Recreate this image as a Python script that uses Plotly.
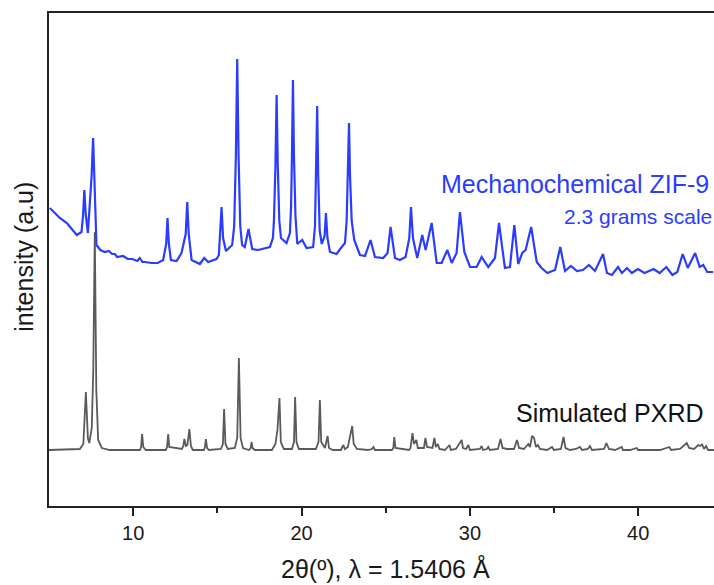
import plotly.graph_objects as go

# Measured pattern: mechanochemical ZIF-9 (2.3 g scale), stacked above the simulation
exp_2theta = [5.05, 5.64, 6.06, 6.65, 6.93, 7.02, 7.10, 7.18, 7.31, 7.53, 7.62, 7.70, 7.76,
              7.82, 8.05, 8.32, 8.55, 8.75, 8.91, 9.05, 9.40, 9.68, 9.95, 10.25,
              10.39, 10.55, 10.69, 11.10, 11.46, 11.78, 11.96, 12.04, 12.12, 12.24, 12.58,
              12.87, 13.12, 13.21, 13.30, 13.47, 13.96,
              14.22, 14.45, 14.95, 15.09, 15.17, 15.25, 15.34, 15.51, 15.88, 16.00, 16.10,
              16.18, 16.26, 16.36, 16.47, 16.63, 16.85,
              17.07, 17.42, 18.12, 18.30, 18.36, 18.45, 18.52, 18.59, 18.68, 18.78, 19.11,
              19.31, 19.38, 19.43, 19.49, 19.55, 19.64, 19.75, 20.04,
              20.30, 20.69, 20.80, 20.87, 20.93, 20.99, 21.08, 21.20, 21.37, 21.45, 21.54,
              21.69, 22.08, 22.34, 22.58, 22.68, 22.76, 22.82, 22.88, 22.98, 23.13,
              23.47, 23.77, 24.10, 24.36, 24.85, 25.11, 25.29, 25.55, 25.84, 26.18, 26.40,
              26.50, 26.62, 26.87, 27.17, 27.37, 27.73, 28.03, 28.32, 28.66, 28.92, 29.21,
              29.41, 29.67,
              30.01, 30.40, 30.70, 31.09, 31.49, 31.73, 32.08, 32.38, 32.64, 32.87, 33.11,
              33.31, 33.64, 33.97, 34.26, 34.60, 34.80, 35.06, 35.37, 35.65, 36.00, 36.36,
              36.72, 37.07, 37.43, 37.67, 37.91, 38.14, 38.44, 38.80, 39.03, 39.33, 39.62,
              39.98, 40.37, 40.91, 41.27, 41.67, 42.03, 42.32, 42.64, 42.94, 43.38, 43.65,
              43.86, 44.10, 44.45]
exp_intensity = [298, 288, 283, 271, 274, 290, 316, 292, 273, 330, 368, 320, 275,
                 261, 256, 254, 255, 252, 252, 249, 250, 247, 247, 245,
                 248, 244, 244, 243, 243, 246, 262, 288, 262, 246, 245,
                 253, 272, 304, 272, 246, 242,
                 248, 244, 247, 251, 270, 299, 268, 255, 261, 280, 350,
                 447, 350, 280, 261, 259, 277,
                 257, 256, 259, 268, 285, 340, 411, 340, 285, 268, 263,
                 273, 300, 350, 426, 350, 290, 262, 266,
                 258, 259, 280, 330, 400, 330, 275, 262, 270, 293, 268,
                 254, 252, 258, 263, 285, 330, 383, 330, 285, 266,
                 251, 250, 266, 249, 248, 253, 279, 248, 246, 249, 268,
                 299, 268, 248, 271, 256, 283, 243, 243, 256, 243, 253,
                 294, 254,
                 239, 239, 249, 239, 248, 283, 238, 239, 281, 242, 253,
                 256, 279, 244, 238, 233, 234, 236, 259, 235, 240, 235,
                 236, 241, 235, 244, 252, 233, 231, 239, 233, 238, 233,
                 237, 233, 237, 233, 239, 231, 234, 252, 238, 253, 239,
                 241, 234, 234]

# Simulated PXRD pattern (baseline at zero, shifted by sim_offset when drawn)
sim_2theta = [5.00, 6.83, 7.04, 7.19, 7.31, 7.39, 7.54, 7.63, 7.72, 7.81, 7.92, 8.14, 8.61,
              10.40, 10.47, 10.53, 10.60, 10.75, 11.94, 12.01, 12.08, 12.14,
              12.89, 12.98, 13.04, 13.13, 13.22, 13.34, 13.43, 13.54,
              14.20, 14.26, 14.32, 14.39, 14.50, 15.21, 15.33, 15.40, 15.48, 15.62,
              16.04, 16.18, 16.28, 16.38, 16.52, 16.87, 16.98, 17.03, 17.09, 17.23,
              18.24, 18.45, 18.57, 18.62, 18.69, 18.77, 18.95,
              19.43, 19.55, 19.62, 19.70, 19.84,
              20.85, 21.01, 21.09, 21.17, 21.39, 21.55, 21.63, 21.86,
              22.34, 22.48, 22.58, 22.75, 22.90, 23.01, 23.10, 23.29,
              23.94, 24.18, 24.27, 24.36, 25.37, 25.45, 25.51, 25.58,
              26.38, 26.47, 26.59, 26.68, 26.82, 26.91, 27.27, 27.36, 27.45,
              27.78, 27.89, 27.98, 28.10, 28.19, 28.52, 28.79, 28.87,
              29.17, 29.51, 29.59, 29.77, 29.91, 30.00, 30.60, 30.70, 30.78,
              31.01, 31.09, 31.19, 31.67, 31.82, 31.94, 32.20, 32.62, 32.80, 32.92,
              33.21, 33.47, 33.57, 33.69, 33.81, 33.93, 34.04, 34.16,
              34.58, 34.88, 34.99, 35.41, 35.56, 35.68, 35.95, 36.30, 36.54, 36.66,
              37.01, 37.13, 37.25, 37.97, 38.11, 38.26, 38.62, 39.02, 39.09,
              39.51, 39.91, 39.99, 41.29, 41.85, 41.95, 42.48, 42.88, 43.02,
              43.31, 43.57, 43.70, 43.79, 43.91, 44.03, 44.15, 44.50]
sim_intensity = [0, 1, 6, 58, 12, 7, 22, 80, 218, 60, 10, 2, 0,
                 0, 3, 16, 3, 0, 0, 3, 16, 3,
                 1, 4, 11, 4, 5, 21, 4, 0,
                 0, 3, 11, 2, 0, 1, 6, 41, 6, 1,
                 2, 12, 92, 12, 2, 0, 2, 8, 2, 0,
                 0, 6, 20, 30, 52, 8, 1,
                 1, 8, 53, 8, 1,
                 1, 8, 50, 8, 2, 14, 2, 0,
                 0, 5, 1, 3, 14, 24, 6, 1,
                 0, 1, 3, 0, 0, 2, 13, 2,
                 0, 2, 17, 6, 10, 2, 2, 12, 3,
                 2, 12, 3, 6, 1, 0, 5, 0,
                 1, 10, 2, 1, 5, 0, 1, 4, 0,
                 1, 3, 0, 1, 11, 2, 1, 1, 10, 2,
                 1, 6, 3, 14, 12, 3, 5, 1,
                 0, 3, 0, 1, 13, 2, 0, 1, 3, 0,
                 1, 4, 0, 1, 7, 1, 0, 3, 0,
                 0, 2, 0, 0, 3, 0, 1, 7, 2,
                 1, 5, 4, 6, 1, 4, 0, 0]
sim_offset = 56

x_ticks = [10, 20, 30, 40]

BLUE = "#2b3cff"
GREY = "#5a5a5a"
FONT = "Liberation Sans, Arial, sans-serif"

fig = go.Figure()
fig.add_trace(go.Scatter(
    x=sim_2theta, y=[v + sim_offset for v in sim_intensity],
    mode="lines", line=dict(color=GREY, width=1.8), hoverinfo="skip"))
fig.add_trace(go.Scatter(
    x=exp_2theta, y=exp_intensity,
    mode="lines", line=dict(color=BLUE, width=2.2), hoverinfo="skip"))

fig.update_layout(
    width=714, height=585,
    margin=dict(l=49, r=0, t=13, b=79),
    paper_bgcolor="white", plot_bgcolor="white",
    showlegend=False,
    font=dict(family=FONT, color="#1a1a1a"),
)

fig.update_xaxes(
    range=[5, 44.5], tickvals=x_ticks, ticktext=[str(t) for t in x_ticks],
    ticks="outside", ticklen=8, tickwidth=1.5, tickcolor="#222",
    minor=dict(tickvals=[15, 25, 35], ticks="outside", ticklen=5,
               tickwidth=1.5, tickcolor="#222"),
    tickfont=dict(size=20, color="#1a1a1a", family=FONT),
    showline=True, linecolor="#222", linewidth=2, mirror=True,
    showgrid=False, zeroline=False,
)
fig.update_yaxes(
    range=[0, 493], showticklabels=False, ticks="",
    showline=True, linecolor="#222", linewidth=2,
    showgrid=False, zeroline=False,
)

fig.add_annotation(
    x=25, xref="x", y=-0.126, yref="paper", yanchor="middle",
    text="2θ(º), λ = 1.5406 Å", showarrow=False,
    font=dict(size=25, color="#1a1a1a", family=FONT))
fig.add_annotation(
    x=-0.062, xref="paper", y=0.505, yref="paper",
    text="intensity (a.u)", textangle=-90, showarrow=False,
    font=dict(size=25, color="#1a1a1a", family=FONT))

fig.add_annotation(
    x=44.3, y=322, xanchor="right", yanchor="middle",
    text="Mechanochemical ZIF-9", showarrow=False,
    font=dict(size=25, color=BLUE, family=FONT))
fig.add_annotation(
    x=44.5, y=290, xanchor="right", yanchor="middle",
    text="2.3 grams scale", showarrow=False,
    font=dict(size=21, color=BLUE, family=FONT))
fig.add_annotation(
    x=44.0, y=93, xanchor="right", yanchor="middle",
    text="Simulated PXRD", showarrow=False,
    font=dict(size=25, color="#111111", family=FONT))

fig.write_html("out.html")
